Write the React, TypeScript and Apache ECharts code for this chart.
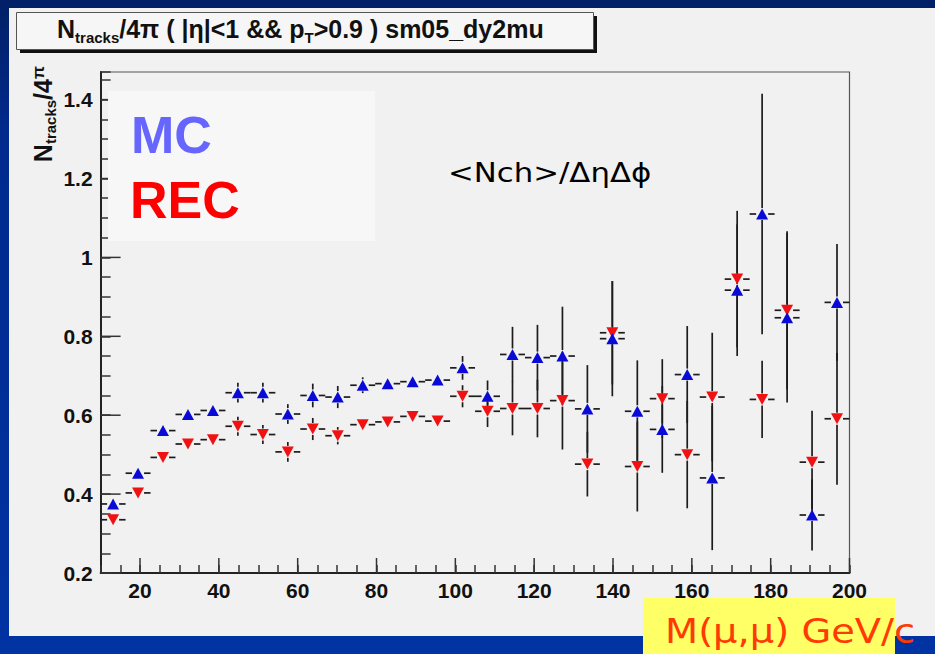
import React, { useEffect, useRef } from 'react';
import * as echarts from 'echarts';

// ---- data ----
const massCenters = [
  13.17, 19.5, 25.83, 32.17, 38.5, 44.83, 51.17, 57.5, 63.83, 70.17,
  76.5, 82.83, 89.17, 95.5, 101.83, 108.17, 114.5, 120.83, 127.17, 133.5,
  139.83, 146.17, 152.5, 158.83, 165.17, 171.5, 177.83, 184.17, 190.5, 196.83,
];
const binHalfWidth = 3.1667;

const mcValues = [
  0.375, 0.453, 0.561, 0.602, 0.612, 0.657, 0.657, 0.603, 0.650, 0.646,
  0.676, 0.680, 0.685, 0.689, 0.720, 0.648, 0.754, 0.746, 0.750, 0.616,
  0.794, 0.610, 0.564, 0.703, 0.441, 0.917, 1.110, 0.847, 0.347, 0.886,
];
const mcErrors = [
  0.01, 0.01, 0.012, 0.012, 0.012, 0.025, 0.025, 0.025, 0.03, 0.028,
  0.02, 0.012, 0.012, 0.012, 0.03, 0.04, 0.07, 0.083, 0.125, 0.111,
  0.146, 0.129, 0.11, 0.123, 0.183, 0.167, 0.305, 0.215, 0.09, 0.148,
];
const recValues = [
  0.335, 0.403, 0.493, 0.527, 0.538, 0.572, 0.551, 0.507, 0.565, 0.548,
  0.576, 0.583, 0.597, 0.585, 0.648, 0.610, 0.617, 0.617, 0.637, 0.476,
  0.809, 0.470, 0.642, 0.500, 0.646, 0.945, 0.640, 0.866, 0.481, 0.591,
];
const recErrors = [
  0.01, 0.01, 0.012, 0.012, 0.012, 0.024, 0.024, 0.025, 0.028, 0.022,
  0.013, 0.012, 0.012, 0.012, 0.028, 0.04, 0.068, 0.073, 0.124, 0.082,
  0.131, 0.114, 0.1, 0.136, 0.163, 0.173, 0.098, 0.2, 0.13, 0.167,
];

const xMajorTicks = [20, 40, 60, 80, 100, 120, 140, 160, 180, 200];
const xTickLabels = ['20', '40', '60', '80', '100', '120', '140', '160', '180', '200'];
const yMajorTicks = [0.2, 0.4, 0.6, 0.8, 1.0, 1.2, 1.4];
const yTickLabels = ['0.2', '0.4', '0.6', '0.8', '1', '1.2', '1.4'];

const X_MIN = 10;
const X_MAX = 200;
const Y_MIN = 0.2;
const Y_MAX = 1.47;

const ROOT_FONT = '"Liberation Sans", Arial, Helvetica, sans-serif';
const SLIDE_FONT = '"DejaVu Sans", Verdana, sans-serif';

export default function App() {
  const ref = useRef<HTMLDivElement>(null);

  useEffect(() => {
    if (!ref.current) return;
    const chart = echarts.init(ref.current, null, { renderer: 'svg' });

    const gap = 6;
    const renderErr = (_params: any, api: any) => {
      const x = api.value(0);
      const y = api.value(1);
      const e = api.value(2);
      const c = api.coord([x, y]);
      const top = api.coord([x, y + e]);
      const bot = api.coord([x, y - e]);
      const l = api.coord([x - binHalfWidth, y]);
      const r = api.coord([x + binHalfWidth, y]);
      const style = { stroke: '#1c1c1c', lineWidth: 1.7 };
      const children: any[] = [];
      if (c[1] - top[1] > gap) {
        children.push({ type: 'line', shape: { x1: c[0], y1: top[1], x2: c[0], y2: c[1] - gap }, style });
      }
      if (bot[1] - c[1] > gap) {
        children.push({ type: 'line', shape: { x1: c[0], y1: c[1] + gap, x2: c[0], y2: bot[1] }, style });
      }
      children.push({ type: 'line', shape: { x1: l[0], y1: c[1], x2: c[0] - gap, y2: c[1] }, style });
      children.push({ type: 'line', shape: { x1: c[0] + gap, y1: c[1], x2: r[0], y2: c[1] }, style });
      return { type: 'group', children };
    };

    const tickStyle = { stroke: '#333', lineWidth: 1.5 };

    const option: any = {
      animation: false,
      backgroundColor: 'transparent',
      grid: {
        left: 100.6,
        right: 85.5,
        top: 72,
        bottom: 81,
        show: true,
        borderColor: '#555',
        borderWidth: 1.2,
        backgroundColor: 'transparent',
        containLabel: false,
        outerBoundsMode: 'none',
      },
      xAxis: {
        type: 'value',
        min: X_MIN,
        max: X_MAX,
        interval: 5,
        axisLine: { show: true, onZero: false, lineStyle: { color: '#222', width: 2 } },
        axisTick: { show: true, inside: true, length: 8, lineStyle: { color: '#333', width: 1.5 } },
        splitLine: { show: false },
        axisLabel: {
          interval: 0,
          margin: 7,
          color: '#111',
          fontSize: 21,
          fontWeight: 'bold',
          fontFamily: ROOT_FONT,
          formatter: (v: number) => {
            const i = xMajorTicks.findIndex((t) => Math.abs(t - v) < 1e-6);
            return i >= 0 ? xTickLabels[i] : '';
          },
        },
      },
      yAxis: {
        type: 'value',
        min: Y_MIN,
        max: Y_MAX,
        interval: 0.05,
        axisLine: { show: true, onZero: false, lineStyle: { color: '#222', width: 2 } },
        axisTick: { show: true, inside: true, length: 10, lineStyle: { color: '#333', width: 1.5 } },
        splitLine: { show: false },
        axisLabel: {
          interval: 0,
          margin: 8,
          color: '#111',
          fontSize: 21,
          fontWeight: 'bold',
          fontFamily: ROOT_FONT,
          formatter: (v: number) => {
            const i = yMajorTicks.findIndex((t) => Math.abs(t - v) < 1e-6);
            return i >= 0 ? yTickLabels[i] : '';
          },
        },
      },
      series: [
        {
          type: 'custom',
          name: 'xMajorTicks',
          silent: true,
          z: 4,
          data: xMajorTicks.map((v) => [v, Y_MIN]),
          renderItem: (_p: any, api: any) => {
            const p = api.coord([api.value(0), api.value(1)]);
            return { type: 'line', shape: { x1: p[0], y1: p[1], x2: p[0], y2: p[1] - 15 }, style: tickStyle };
          },
        },
        {
          type: 'custom',
          name: 'yMajorTicks',
          silent: true,
          z: 4,
          data: yMajorTicks.map((v) => [X_MIN, v]),
          renderItem: (_p: any, api: any) => {
            const p = api.coord([api.value(0), api.value(1)]);
            return { type: 'line', shape: { x1: p[0], y1: p[1], x2: p[0] + 20, y2: p[1] }, style: tickStyle };
          },
        },
        {
          type: 'custom',
          name: 'MC errors',
          silent: true,
          z: 3,
          data: massCenters.map((x, i) => [x, mcValues[i], mcErrors[i]]),
          renderItem: renderErr,
        },
        {
          type: 'custom',
          name: 'REC errors',
          silent: true,
          z: 3,
          data: massCenters.map((x, i) => [x, recValues[i], recErrors[i]]),
          renderItem: renderErr,
        },
        {
          type: 'scatter',
          name: 'REC',
          silent: true,
          z: 5,
          symbol: 'triangle',
          symbolRotate: 180,
          symbolSize: [12, 11],
          itemStyle: { color: '#f01212', opacity: 1 },
          data: massCenters.map((x, i) => [x, recValues[i]]),
        },
        {
          type: 'scatter',
          name: 'MC',
          silent: true,
          z: 6,
          symbol: 'triangle',
          symbolSize: [12, 11],
          itemStyle: { color: '#0a0ad6', opacity: 1 },
          data: massCenters.map((x, i) => [x, mcValues[i]]),
        },
      ],
      graphic: [
        // grey slide panel
        { type: 'rect', z: -100, silent: true, shape: { x: 9, y: 8, width: 926, height: 628 }, style: { fill: '#f1f1f1' } },
        // title box with shadow
        { type: 'rect', z: 50, silent: true, shape: { x: 20, y: 16, width: 577, height: 37 }, style: { fill: '#111' } },
        { type: 'rect', z: 51, silent: true, shape: { x: 16.5, y: 12.5, width: 577, height: 37 }, style: { fill: '#f6f6f6', stroke: '#555', lineWidth: 1 } },
        {
          type: 'text', z: 52, silent: true, x: 57, y: 29,
          style: {
            text: '{n|N}{s|tracks}{n|/4π ( |η|<1 && p}{s|T}{n|>0.9 ) sm05_dy2mu}',
            align: 'left', verticalAlign: 'middle', fill: '#111',
            rich: {
              n: { fontSize: 25, fontWeight: 'bold', fontFamily: ROOT_FONT, fill: '#111' },
              s: { fontSize: 15, fontWeight: 'bold', fontFamily: ROOT_FONT, fill: '#111', padding: [16, 0, 0, 0] },
            },
          },
        },
        // y axis title (rotated)
        {
          type: 'text', z: 52, silent: true, x: 43, y: 66, rotation: Math.PI / 2,
          style: {
            text: '{n|N}{s|tracks}{n|/4}{p|π}',
            align: 'right', verticalAlign: 'middle', fill: '#111',
            rich: {
              n: { fontSize: 25, fontWeight: 'bold', fontFamily: ROOT_FONT, fill: '#111' },
              s: { fontSize: 15, fontWeight: 'bold', fontFamily: ROOT_FONT, fill: '#111', padding: [15, 0, 0, 0] },
              p: { fontSize: 17, fontWeight: 'bold', fontFamily: ROOT_FONT, fill: '#111', padding: [0, 0, 10, 0] },
            },
          },
        },
        // MC / REC legend box
        { type: 'rect', z: 100, silent: true, shape: { x: 108, y: 91, width: 267, height: 150 }, style: { fill: '#f7f7f7' } },
        {
          type: 'text', z: 101, silent: true, x: 131, y: 135,
          style: { text: 'MC', fill: '#6666ff', font: `bold 52px ${ROOT_FONT}`, align: 'left', verticalAlign: 'middle' },
        },
        {
          type: 'text', z: 101, silent: true, x: 130, y: 200,
          style: { text: 'REC', fill: '#ff0000', font: `bold 52px ${ROOT_FONT}`, align: 'left', verticalAlign: 'middle' },
        },
        // <Nch>/ΔηΔϕ annotation
        {
          type: 'text', z: 101, silent: true, x: 448, y: 173, scaleX: 1.14,
          style: { text: '<Nch>/ΔηΔϕ', fill: '#000', font: `27px ${SLIDE_FONT}`, align: 'left', verticalAlign: 'middle' },
        },
        // x axis title on yellow box
        { type: 'rect', z: 100, silent: true, shape: { x: 643, y: 598, width: 252, height: 56 }, style: { fill: '#ffff66' } },
        {
          type: 'text', z: 101, silent: true, x: 665, y: 631, scaleX: 1.13,
          style: { text: 'M(μ,μ) GeV/c', fill: '#ff3a00', font: `34px ${SLIDE_FONT}`, align: 'left', verticalAlign: 'middle' },
        },
      ],
    };

    chart.setOption(option);
    return () => chart.dispose();
  }, []);

  return (
    <div
      ref={ref}
      style={{
        position: 'fixed',
        left: 0,
        top: 0,
        width: 935,
        height: 654,
        background: 'linear-gradient(180deg, #001f66 0%, #002a8c 20%, #0033a3 100%)',
      }}
    />
  );
}
